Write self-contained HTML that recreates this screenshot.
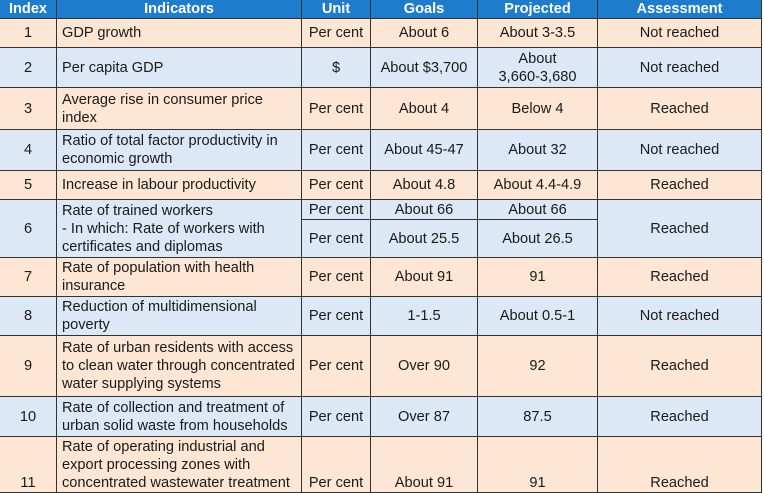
<!DOCTYPE html>
<html><head><meta charset="utf-8"><style>
body{margin:0;width:764px;height:491px;overflow:hidden;background:#fff;font-family:"Liberation Sans",Arial,sans-serif;font-size:14.6px;color:#1a1a1a}
.c{position:absolute;box-sizing:border-box;border-right:1.5px solid #333;border-bottom:1.5px solid #333;display:flex;align-items:center;justify-content:center;text-align:center;line-height:18px;padding:0 3px}
.l{justify-content:flex-start;text-align:left;padding-left:5px;padding-right:2px}
.h{background:#1d7ccc;color:#fff;font-weight:bold;font-size:14.6px}
.p{background:#fde6d4}
.b{background:#dde8f6}
</style></head><body>
<div style="position:absolute;left:0;top:0;width:762px;height:493px;border-left:1.5px solid #333;box-sizing:border-box"></div>
<div id="t"></div>
<script>
var X=[0,57,302,371,478,598,762];
var Y=[0,19,48,88,130,171,200,258,297,336,397,437,493];
var rows=[
["h",["Index","Indicators","Unit","Goals","Projected","Assessment"]],
["p",["1","GDP growth","Per cent","About 6","About 3-3.5","Not reached"]],
["b",["2","Per capita GDP","$","About $3,700","About<br>3,660-3,680","Not reached"]],
["p",["3","Average rise in consumer price index","Per cent","About 4","Below 4","Reached"]],
["b",["4","Ratio of total factor productivity in economic growth","Per cent","About 45-47","About 32","Not reached"]],
["p",["5","Increase in labour productivity","Per cent","About 4.8","About 4.4-4.9","Reached"]],
["b",["6","Rate of trained workers<br>- In which: Rate of workers with certificates and diplomas",null,null,null,"Reached"]],
["p",["7","Rate of population with health insurance","Per cent","About 91","91","Reached"]],
["b",["8","Reduction of multidimensional poverty","Per cent","1-1.5","About 0.5-1","Not reached"]],
["p",["9","Rate of urban residents with access to clean water through concentrated water supplying systems","Per cent","Over 90","92","Reached"]],
["b",["10","Rate of collection and treatment of urban solid waste from households","Per cent","Over 87","87.5","Reached"]],
["p",["11","Rate of operating industrial and export processing zones with concentrated wastewater treatment","Per cent","About 91","91","Reached"]]
];
var h="";
function cell(cls,x,y,w,hh,txt,extra){h+='<div class="c '+cls+'" style="left:'+x+'px;top:'+y+'px;width:'+w+'px;height:'+hh+'px;'+(extra||'')+'">'+txt+'</div>';}
var sub=[["Per cent","About 66","About 66"],["Per cent","About 25.5","About 26.5"]];
rows.forEach(function(r,i){
 for(var j=0;j<6;j++){
  var t=r[1][j],x=X[j],y=Y[i],w=X[j+1]-X[j],hh=Y[i+1]-Y[i];
  var ex=(i==11)?'align-items:flex-end;padding-bottom:0;':'';
  if(t===null){
   cell(r[0],x,y,w,20,sub[0][j-2]);cell(r[0],x,y+20,w,hh-20,sub[1][j-2]);
  } else cell(r[0]+(j==1&&i>0?' l':''),x,y,w,hh,t,ex);
 }
});
document.getElementById("t").innerHTML=h;
</script>
</body></html>
